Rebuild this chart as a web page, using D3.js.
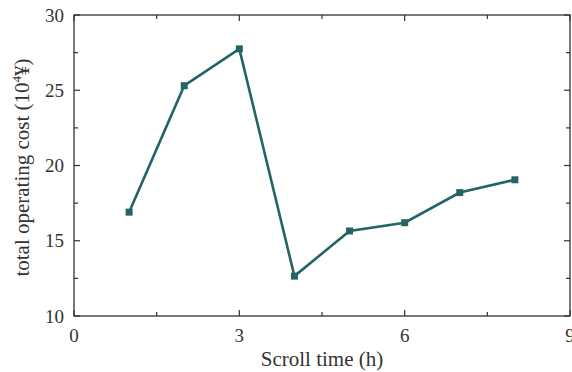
<!DOCTYPE html>
<html><head><meta charset="utf-8">
<script src="https://cdn.jsdelivr.net/npm/d3@7"></script>
<style>body{margin:0;background:#fff}svg{display:block}text{font-family:"Liberation Serif","DejaVu Serif",serif;fill:#333}</style>
</head><body><svg width="572" height="372"></svg>
<script>
const xValues=[1,2,3,4,5,6,7,8];
const costValues=[16.9,25.3,27.75,12.65,15.65,16.2,18.2,19.05];
const xTicks=[0,3,6,9];
const xMinor=[1.5,4.5,7.5];
const yTicks=[10,15,20,25,30];
const yMinor=[12.5,17.5,22.5,27.5];

const svg=d3.select("svg");
const L=74,R=570,T=15,B=316;
const x=d3.scaleLinear().domain([0,9]).range([L,R]);
const y=d3.scaleLinear().domain([10,30]).range([B,T]);
const ax="#333";
const g=svg.append("g");
g.append("rect").attr("x",L).attr("y",T).attr("width",R-L).attr("height",B-T).attr("fill","none").attr("stroke",ax).attr("stroke-width",1.3);
const tick=(x1,y1,x2,y2)=>g.append("line").attr("x1",x1).attr("y1",y1).attr("x2",x2).attr("y2",y2).attr("stroke",ax).attr("stroke-width",1.2);
xTicks.forEach(v=>{tick(x(v),B,x(v),B-6);tick(x(v),T,x(v),T+6);});
xMinor.forEach(v=>{tick(x(v),B,x(v),B-4);tick(x(v),T,x(v),T+4);});
yTicks.forEach(v=>{tick(L,y(v),L+6,y(v));tick(R,y(v),R-6,y(v));});
yMinor.forEach(v=>{tick(L,y(v),L+4,y(v));tick(R,y(v),R-4,y(v));});
g.selectAll(".xl").data(xTicks).enter().append("text").attr("x",d=>x(d)).attr("y",342).attr("text-anchor","middle").attr("font-size",19).text(d=>d);
g.selectAll(".yl").data(yTicks).enter().append("text").attr("x",64).attr("y",d=>y(d)+6.5).attr("text-anchor","end").attr("font-size",19).text(d=>d);
svg.append("text").attr("x",(L+R)/2).attr("y",366).attr("text-anchor","middle").attr("font-size",21).text("Scroll time (h)");
const yl=svg.append("text").attr("transform",`translate(29,${(T+B)/2+2}) rotate(-90)`).attr("text-anchor","middle").attr("font-size",21);
yl.append("tspan").text("total operating cost (10");
yl.append("tspan").attr("font-size",13).attr("dy",-8).text("4");
yl.append("tspan").attr("dy",8).text("¥)");
const col="#246464";
svg.append("path").datum(xValues.map((v,i)=>[v,costValues[i]])).attr("d",d3.line().x(d=>x(d[0])).y(d=>y(d[1]))).attr("fill","none").attr("stroke",col).attr("stroke-width",2.6);
svg.selectAll(".m").data(xValues).enter().append("rect").attr("x",(d)=>x(d)-3.5).attr("y",(d,i)=>y(costValues[i])-3.5).attr("width",7).attr("height",7).attr("fill",col);
</script></body></html>
